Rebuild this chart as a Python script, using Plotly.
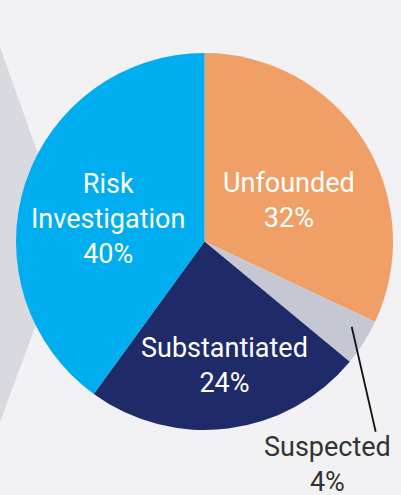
import plotly.graph_objects as go

labels = ["Unfounded", "Suspected", "Substantiated", "Risk Investigation"]
values = [32, 4, 24, 40]
colors = ["#F0A066", "#C5C8D2", "#1F2A68", "#00AEEF"]
label_text = ["Unfounded<br>32%", "Suspected<br>4%", "Substantiated<br>24%", "Risk<br>Investigation<br>40%"]
text_colors = ["#FFFFFF", "#333333", "#FFFFFF", "#FFFFFF"]

W, H = 401, 495
BG = "#F2F2F4"
FONT = "Roboto, Liberation Sans, sans-serif"

# pixel helpers -> paper coords
px = lambda x: x / W
py = lambda y: 1 - y / H

fig = go.Figure()
fig.add_trace(go.Pie(
    labels=labels, values=values, sort=False, direction="clockwise", rotation=0,
    marker=dict(colors=colors, line=dict(width=0)),
    textinfo="none", hoverinfo="label+percent", showlegend=False,
    domain=dict(x=[16 / W, 393 / W], y=[(253.5 - 188.5) / H, (253.5 + 188.5) / H]),
))

# label placement (pixel centres)
label_pos = [(289, 200.5), (327.5, 464), (224.5, 365), (107.8, 218.5)]
annotations = []
for t, c, (x, y) in zip(label_text, text_colors, label_pos):
    annotations.append(dict(
        x=px(x), y=py(y), xref="paper", yref="paper", text=t, showarrow=False,
        xanchor="center", yanchor="middle", align="center",
        font=dict(family=FONT, size=27, color=c),
    ))

shapes = [
    dict(type="path", xref="paper", yref="paper", layer="below",
         path=f"M 0,{py(47)} L {px(68)},{py(238)} L 0,{py(422)} Z",
         fillcolor="#D9DADF", line=dict(width=0)),
    dict(type="line", xref="paper", yref="paper", layer="above",
         x0=px(351.7), y0=py(326.7), x1=px(375.7), y1=py(431.7),
         line=dict(color="#111111", width=1.8)),
]

fig.update_layout(
    width=W, height=H, margin=dict(l=0, r=0, t=0, b=0),
    paper_bgcolor=BG, plot_bgcolor=BG,
    annotations=annotations, shapes=shapes,
)
fig.write_html("out.html", config={"displayModeBar": False},
               post_script="document.body.style.margin='0';document.body.style.overflow='hidden';")
